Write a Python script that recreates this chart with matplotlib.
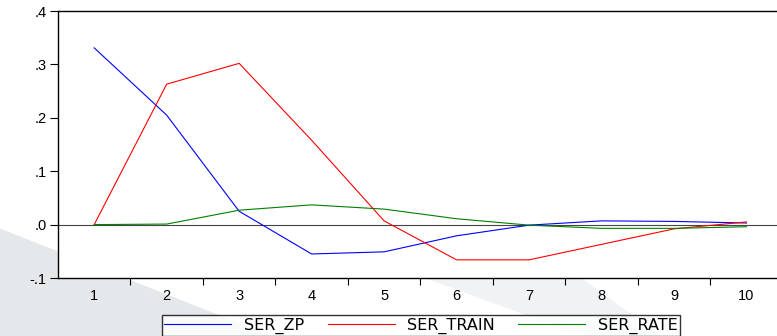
import matplotlib
matplotlib.use("Agg")
import matplotlib.pyplot as plt
from matplotlib.patches import Polygon
from matplotlib.ticker import FuncFormatter

periods = [1, 2, 3, 4, 5, 6, 7, 8, 9, 10]
ser_zp = [0.331, 0.205, 0.025, -0.055, -0.051, -0.021, -0.001, 0.007, 0.006, 0.003]
ser_train = [0.0, 0.263, 0.302, 0.158, 0.007, -0.066, -0.066, -0.037, -0.008, 0.005]
ser_rate = [0.0, 0.001, 0.027, 0.037, 0.029, 0.011, -0.001, -0.007, -0.007, -0.004]

plt.rcParams["font.family"] = ["Liberation Sans", "DejaVu Sans"]

fig = plt.figure(figsize=(7.77, 3.36), dpi=100)

# faint watermark shapes in the background
fig.patches.append(Polygon([(0, 0), (0.35, 0), (0.0, 0.32)], closed=True,
                           transform=fig.transFigure, facecolor="#e4e8ea",
                           edgecolor="none", zorder=-5))
fig.patches.append(Polygon([(0.55, 0.17), (0.75, 0.17), (0.85, 0.0), (0.75, 0.0)], closed=True,
                           transform=fig.transFigure, facecolor="#f0f2f3",
                           edgecolor="none", zorder=-5))

ax = fig.add_axes([0.0746, 0.1726, 0.9327, 0.7946])
ax.set_zorder(2)
ax.set_facecolor("white")

ax.plot(periods, ser_zp, color="blue", lw=0.8, label="SER_ZP")
ax.plot(periods, ser_train, color="red", lw=0.8, label="SER_TRAIN")
ax.plot(periods, ser_rate, color="green", lw=0.8, label="SER_RATE")
ax.axhline(0, color="#444444", lw=0.8, zorder=1)

ax.set_xlim(0.5, 10.5)
ax.set_ylim(-0.1, 0.4)
ax.set_xticks(periods)
ax.set_xticks([p + 0.5 for p in periods[:-1]], minor=True)
ax.set_yticks([-0.1, 0.0, 0.1, 0.2, 0.3, 0.4])


def fmt(v, pos):
    s = "%.1f" % v
    return s.replace("0.", ".")


ax.yaxis.set_major_formatter(FuncFormatter(fmt))
ax.tick_params(axis="x", which="major", length=0, pad=8, labelsize=10.5)
ax.tick_params(axis="x", which="minor", length=5, width=0.8, direction="out")
ax.tick_params(axis="y", length=6, width=0.8, direction="out", labelsize=10.5, pad=2)
for s in ax.spines.values():
    s.set_linewidth(1.0)
    s.set_color("black")

leg = fig.legend(loc="upper center", bbox_to_anchor=(0.542, 0.085), ncol=3,
                 frameon=True, fancybox=False, edgecolor="black",
                 prop={"family": "DejaVu Sans", "size": 11.5},
                 handlelength=4.2, columnspacing=1.45, borderpad=0.15, handletextpad=0.8)
leg.get_frame().set_linewidth(1.0)
leg.set_zorder(3)

fig.savefig("out.png", dpi=100)
plt.close(fig)
